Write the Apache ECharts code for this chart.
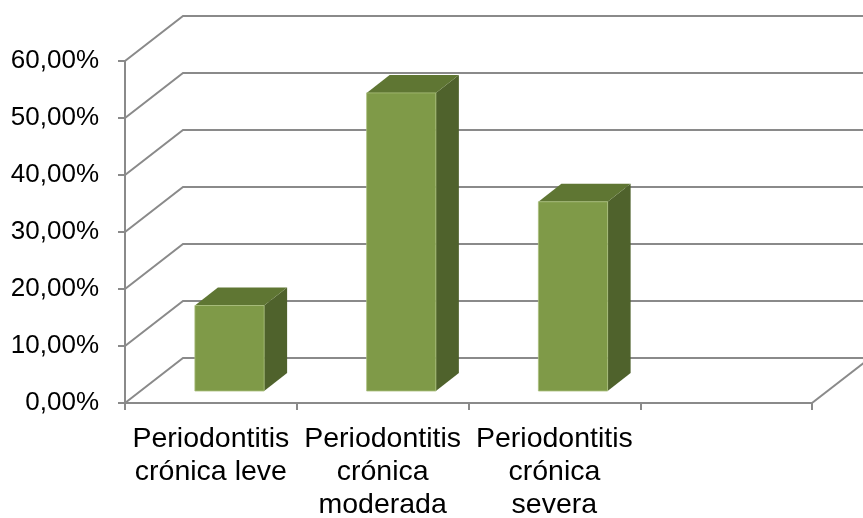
<!DOCTYPE html>
<html>
<head>
<meta charset="utf-8">
<style>html,body{margin:0;padding:0;background:#fff}#c{width:863px;height:518px}</style>
<script src="https://cdn.jsdelivr.net/npm/echarts@6/dist/echarts.min.js"></script>
</head>
<body>
<div id="c"></div>
<script>
var categories = ['Periodontitis\ncrónica leve', 'Periodontitis\ncrónica\nmoderada', 'Periodontitis\ncrónica\nsevera', ''];
var values = [15.0, 52.3, 33.2];
var yTicks = [0, 10, 20, 30, 40, 50, 60];

var DX = 58, DY = 45;           // wall depth offset
var BDX = 23, BDY = 18;         // bar depth offset
var LIFT = 12;                  // bar front face lift from floor front

var chart = echarts.init(document.getElementById('c'), null, {renderer: 'canvas'});
var gridColor = '#8a8a8a';
var font = 'Liberation Sans, Arial, sans-serif';

chart.setOption({
  animation: false,
  backgroundColor: '#fff',
  grid: {left: 125, right: 51, top: 61, bottom: 115, containLabel: false, outerBoundsMode: 'none'},
  xAxis: {
    type: 'category', data: categories, boundaryGap: true,
    axisLine: {show: true, lineStyle: {color: gridColor, width: 2}},
    axisTick: {show: true, length: 7, lineStyle: {color: gridColor, width: 2}, interval: 0},
    axisLabel: {interval: 0, color: '#000', fontSize: 28.5, fontFamily: font, lineHeight: 33, margin: 20, align: 'center'},
    splitLine: {show: false}
  },
  yAxis: {
    type: 'value', min: 0, max: 60, interval: 10,
    axisLine: {show: true, lineStyle: {color: gridColor, width: 2}},
    axisTick: {show: true, length: 7, lineStyle: {color: gridColor, width: 2}},
    axisLabel: {color: '#000', fontSize: 26, fontFamily: font, margin: 26,
      formatter: function (v) { return v.toFixed(2).replace('.', ',') + '%'; }},
    splitLine: {show: false}
  },
  series: [
    {
      type: 'custom', z: 1, silent: true,
      data: yTicks.map(function (v) { return [0, v]; }),
      encode: {x: 0, y: 1},
      renderItem: function (params, api) {
        var v = api.value(1);
        var w = api.size([1, 0])[0];
        var p0 = api.coord([0, v]);
        var p3 = api.coord([categories.length - 1, v]);
        var xl = p0[0] - w / 2, xr = p3[0] + w / 2, y = p0[1];
        var children = [{
          type: 'polyline',
          shape: {points: [[xl, y], [xl + DX, y - DY], [xr + DX, y - DY]]},
          style: {stroke: gridColor, lineWidth: 2, fill: null}
        }];
        if (v === 0) {
          children.push({
            type: 'line',
            shape: {x1: xr, y1: y, x2: xr + DX, y2: y - DY},
            style: {stroke: gridColor, lineWidth: 2}
          });
        }
        return {type: 'group', children: children};
      }
    },
    {
      type: 'custom', z: 2, silent: true,
      data: values.map(function (v, i) { return [i, v]; }),
      encode: {x: 0, y: 1},
      renderItem: function (params, api) {
        var i = api.value(0), v = api.value(1);
        var w = api.size([1, 0])[0];
        var top = api.coord([i, v]);
        var bot = api.coord([i, 0]);
        var c = top[0];
        var x0 = c - 0.093 * w, x1 = c + 0.31 * w;
        var y0 = bot[1] - LIFT, y1 = top[1] - LIFT;
        return {
          type: 'group',
          children: [
            {type: 'polygon', shape: {points: [[x1, y1], [x1 + BDX, y1 - BDY], [x1 + BDX, y0 - BDY], [x1, y0]]},
             style: {fill: '#4f622c'}},
            {type: 'polygon', shape: {points: [[x0, y1], [x0 + BDX, y1 - BDY], [x1 + BDX, y1 - BDY], [x1, y1]]},
             style: {fill: '#5f7633'}},
            {type: 'rect', shape: {x: x0, y: y1, width: x1 - x0, height: y0 - y1},
             style: {fill: '#7f9a48', stroke: '#a9bf7c', lineWidth: 0.8}}
          ]
        };
      }
    }
  ]
});
</script>
</body>
</html>
